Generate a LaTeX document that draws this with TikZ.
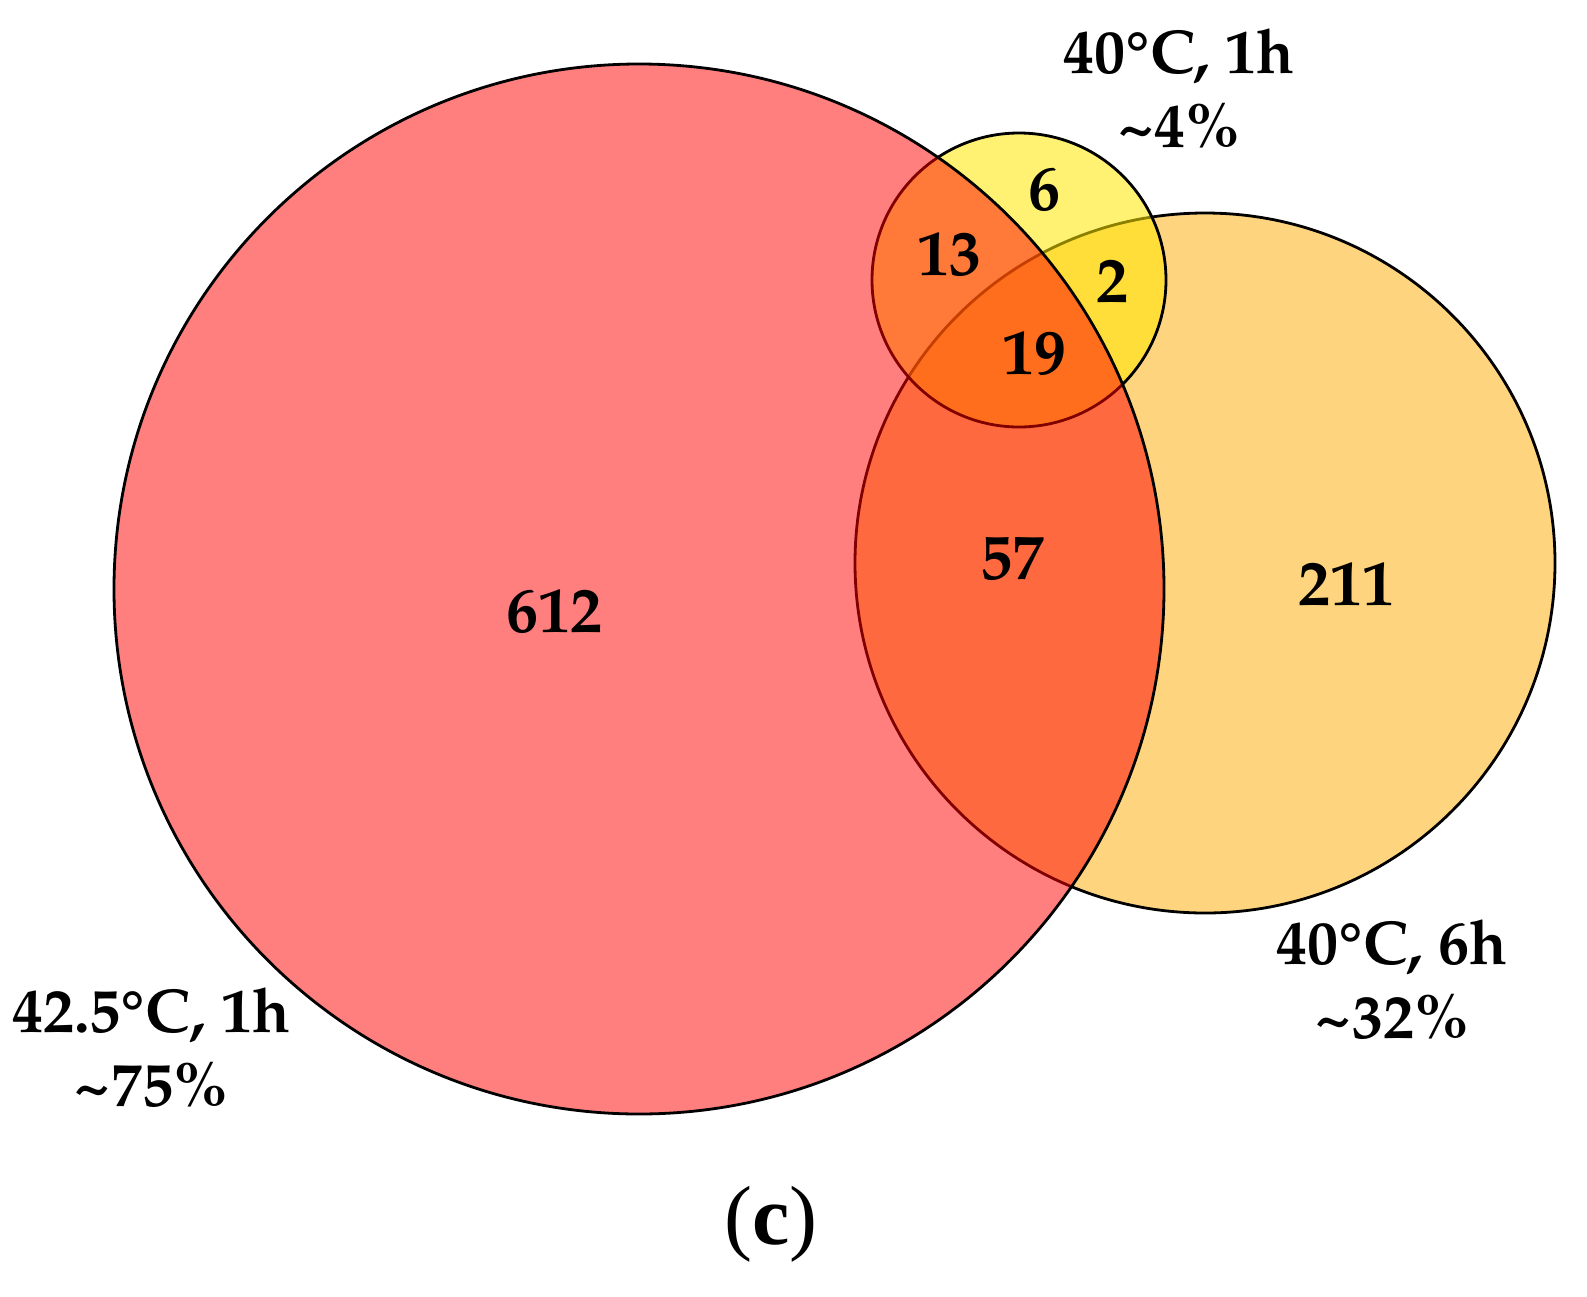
\documentclass[tikz,border=0pt]{standalone}
\usepackage{fontspec}
\setmainfont{texgyrepagella}[Extension=.otf, UprightFont=*-regular, BoldFont=*-bold]
\newfontfamily\capfont{Liberation Serif}
\definecolor{cRed}{RGB}{255,0,0}
\definecolor{cOrange}{RGB}{255,170,0}
\definecolor{cYellow}{RGB}{255,232,0}
\begin{document}
\begin{tikzpicture}[x=0.5pt,y=-0.5pt,
  setc/.style={draw=black, line width=1.4pt, fill opacity=0.5},
  num/.style={font=\fontsize{32}{38}\selectfont\bfseries, inner sep=0pt},
  lab/.style={font=\fontsize{31}{37}\selectfont\bfseries, align=center, inner sep=0pt}]
\useasboundingbox (0,0) rectangle (1587,1297);
% circles: orange bottom, yellow middle, red top
\draw[setc, fill=cOrange] (1205,563) circle [radius=350];
\draw[setc, fill=cYellow, fill opacity=0.55] (1019,280) circle [radius=147];
\draw[setc, fill=cRed] (639,589) circle [radius=525];
% counts
\node[num] (n612) at (554,612) {612};
\node[num] (n57) at (1012,559) {57};
\node[num] (n211) at (1346,584) {211};
\node[num] (n13) at (949,255) {13};
\node[num] (n6) at (1044,190) {6};
\node[num] (n2) at (1112,281) {2};
\node[num] (n19) at (1034,354) {19};
% labels
\node[lab] (lY) at (1179,88) {40°C, 1h\\\textasciitilde4\%};
\node[lab] (lO) at (1392,980) {40°C, 6h\\\textasciitilde32\%};
\node[lab] (lR) at (151,1048) {42.5°C, 1h\\\textasciitilde75\%};
\node[inner sep=0pt, font=\capfont\fontsize{42}{44}\selectfont] (cap) at (771,1224) {(\textbf{c})};
\end{tikzpicture}
\end{document}
